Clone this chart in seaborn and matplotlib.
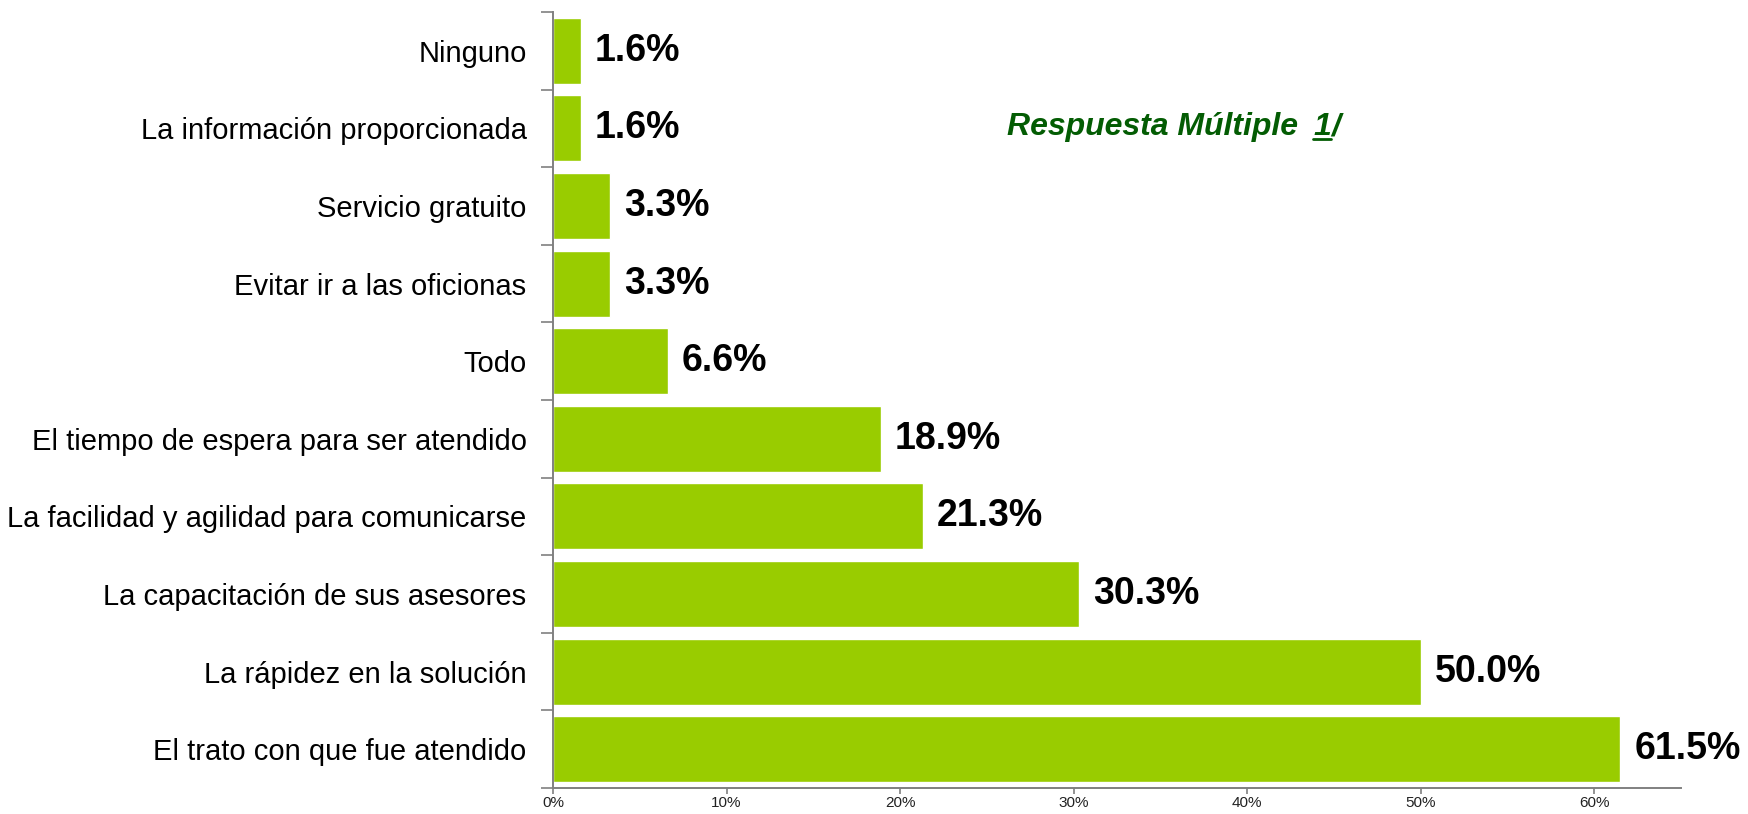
import matplotlib
matplotlib.use("Agg")
import matplotlib.pyplot as plt
import seaborn as sns
import pandas as pd
from matplotlib.lines import Line2D

# Datos (de arriba hacia abajo)
categorias = [
    "Ninguno",
    "La información proporcionada",
    "Servicio gratuito",
    "Evitar ir a las oficionas",
    "Todo",
    "El tiempo de espera para ser atendido",
    "La facilidad y agilidad para comunicarse",
    "La capacitación de sus asesores",
    "La rápidez en la solución",
    "El trato con que fue atendido",
]
porcentajes = [1.6, 1.6, 3.3, 3.3, 6.6, 18.9, 21.3, 30.3, 50.0, 61.5]
ticks_x = [0, 10, 20, 30, 40, 50, 60]

df = pd.DataFrame({"categoria": categorias, "pct": porcentajes})

sns.set_style("white")
plt.rcParams["font.family"] = ["Liberation Sans", "DejaVu Sans"]

fig = plt.figure(figsize=(17.48, 8.14), dpi=100)
ax = fig.add_axes([553 / 1748, 1 - 788 / 814, (1681 - 553) / 1748, (788 - 12) / 814])

sns.barplot(data=df, x="pct", y="categoria", orient="h", color="#99CC00",
            saturation=1, width=0.85, ax=ax)

ax.set_xlim(0, 65)
ax.set_ylim(len(categorias) - 0.5, -0.5)
ax.set_xticks(ticks_x)
ax.set_xticklabels([f"{t}%" for t in ticks_x], fontsize=11, color="#222222")
ax.set_xlabel("")
ax.set_ylabel("")

# Etiquetas de categoría sin marca; marcas menores en los límites
ax.tick_params(axis="y", which="major", length=0, pad=19, labelsize=21, labelcolor="black")
ax.set_yticks([i - 0.5 for i in range(len(categorias) + 1)], minor=True)
ax.tick_params(axis="y", which="minor", left=True, length=9, width=1.2, color="#808080")
ax.tick_params(axis="x", which="major", bottom=True, length=4, width=1.2, color="#808080", pad=2)

for s in ["top", "right"]:
    ax.spines[s].set_visible(False)
for s in ["left", "bottom"]:
    ax.spines[s].set_color("#808080")
    ax.spines[s].set_linewidth(1.4)

ax.bar_label(ax.containers[0], fmt="%.1f%%", padding=10, fontsize=27,
             fontweight="bold", color="black")

# Título "Respuesta Múltiple 1/"
verde = "#035C03"
fig.text(1007 / 1748, 1 - 135 / 814, "Respuesta Múltiple", fontsize=23,
         fontweight="bold", fontstyle="italic", color=verde, va="baseline")
t1 = fig.text(1313 / 1748, 1 - 135 / 814, "1", fontsize=23,
              fontweight="bold", fontstyle="italic", color=verde, va="baseline")
fig.canvas.draw()
bb = t1.get_window_extent()
fig.text(bb.x1 / 1748, 1 - 135 / 814, "/", fontsize=23,
         fontweight="bold", fontstyle="italic", color=verde, va="baseline")
y_sub = 1 - 139 / 814
fig.add_artist(Line2D([bb.x0 / 1748, bb.x1 / 1748], [y_sub, y_sub],
                      transform=fig.transFigure, color=verde, linewidth=2))

fig.savefig("out.png", dpi=100, facecolor="white")
